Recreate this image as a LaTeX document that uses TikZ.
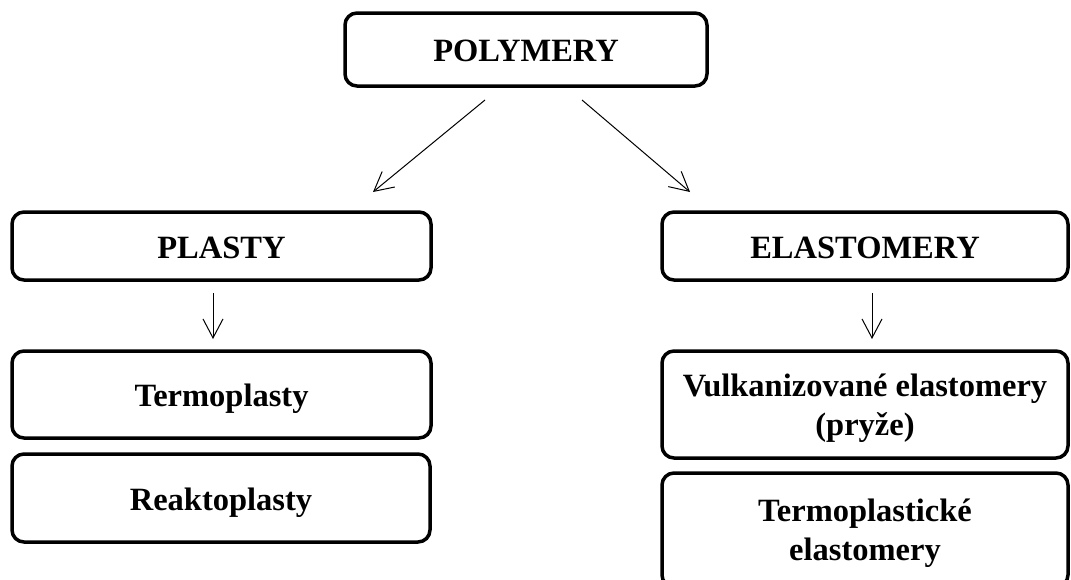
\documentclass[tikz,border=0pt]{standalone}
\usepackage{fontspec}
\setmainfont{Liberation Serif}
\usetikzlibrary{arrows.meta}
\begin{document}
\begin{tikzpicture}[x=1pt,y=-1pt,
  box/.style={draw=black,line width=3.5pt,rounded corners=12pt,inner sep=0pt,align=center,
    font=\fontsize{32.5}{39}\selectfont\bfseries},
  oneline/.style={text height=24pt,text depth=0pt},
  twoline/.style={text depth=0pt},
  conn/.style={line width=1pt,-{Straight Barb[length=19pt,width=20pt,line width=1pt]}}]
\useasboundingbox (0,0) rectangle (1071,579);
\begin{scope}
\clip (0,0) rectangle (1071,579);
\node[box,oneline,minimum width=362pt,minimum height=73pt] (poly) at (526,49.5) {POLYMERY};
\node[box,oneline,minimum width=419pt,minimum height=68pt] (plasty) at (221.5,246) {PLASTY};
\node[box,oneline,minimum width=406pt,minimum height=68pt] (elast) at (865,246) {ELASTOMERY};
\node[box,oneline,minimum width=419pt,minimum height=87pt] (termo) at (221.5,394.5) {Termoplasty};
\node[box,oneline,minimum width=418pt,minimum height=88pt] (reakto) at (221,498) {Reaktoplasty};
\node[box,twoline,minimum width=406pt,minimum height=107pt] (vulk) at (865,404.5) {Vulkanizované elastomery\\(pryže)};
\node[box,twoline,minimum width=406pt,minimum height=114pt] (tpe) at (865,530) {Termoplastické\\elastomery};
\end{scope}
\coordinate (a1s) at (485,100);
\coordinate (a1e) at (373,192);
\coordinate (a2s) at (582,100);
\coordinate (a2e) at (690,192);
\coordinate (a3s) at (213,293);
\coordinate (a3e) at (213,339);
\coordinate (a4s) at (872,293);
\coordinate (a4e) at (872,339);
\draw[conn] (a1s) -- (a1e);
\draw[conn] (a2s) -- (a2e);
\draw[conn] (a3s) -- (a3e);
\draw[conn] (a4s) -- (a4e);
\end{tikzpicture}
\end{document}
